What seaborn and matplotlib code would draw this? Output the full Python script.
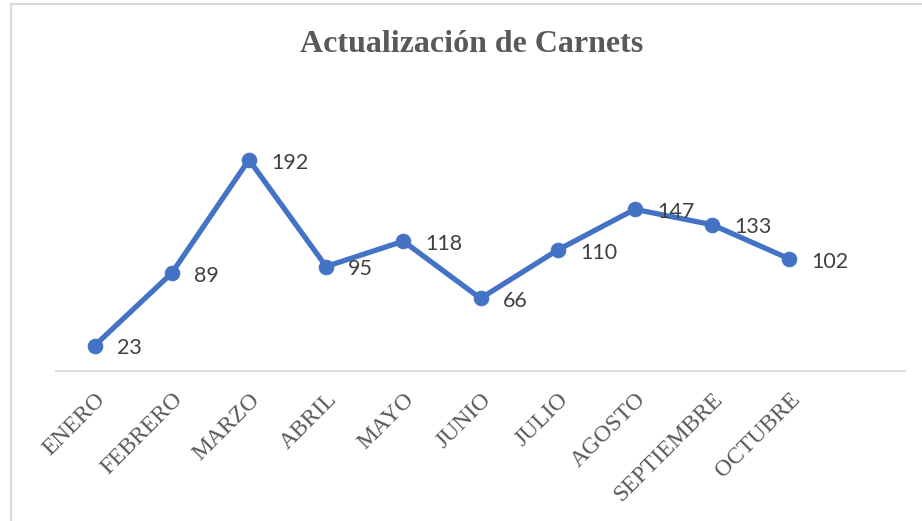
import matplotlib
matplotlib.use("Agg")
import matplotlib.pyplot as plt
import seaborn as sns
import pandas as pd
from matplotlib.lines import Line2D

months = ["ENERO", "FEBRERO", "MARZO", "ABRIL", "MAYO", "JUNIO",
          "JULIO", "AGOSTO", "SEPTIEMBRE", "OCTUBRE"]
values = [23, 89, 192, 95, 118, 66, 110, 147, 133, 102]
title = "Actualización de Carnets"

sns.set_theme(style="white")
plt.rcParams['font.family'] = ['Liberation Serif', 'DejaVu Serif']

df = pd.DataFrame({"x": list(range(len(months))), "mes": months, "valor": values})

fig = plt.figure(figsize=(9.22, 5.21), dpi=100)
ax = fig.add_axes([56 / 922, (521 - 371) / 521, (905 - 56) / 922, (371 - 96) / 521])

blue = "#4472C4"
sns.lineplot(data=df, x="x", y="valor", ax=ax, color=blue, linewidth=3.8,
             marker="o", markersize=10.5, markeredgecolor=blue, markerfacecolor=blue,
             clip_on=False)

ax.set_xlim(-0.5, 10.5)
ax.set_ylim(0, 250)
ax.set_xticks(df["x"])
ax.set_xticklabels(months, rotation=45, ha="right", va="top", rotation_mode="anchor",
                   fontsize=17, color="#595959", family="Liberation Serif")
ax.tick_params(axis="x", length=0, pad=13)
ax.set_yticks([])
ax.set_xlabel("")
ax.set_ylabel("")
for s in ["top", "right", "left"]:
    ax.spines[s].set_visible(False)
ax.spines["bottom"].set_color("#D9D9D9")
ax.spines["bottom"].set_linewidth(1.3)

for xi, v in zip(df["x"], values):
    ax.annotate(str(v), (xi, v), xytext=(16, -2), textcoords="offset points",
                ha="left", va="center", fontsize=15.5, color="#404040",
                family=["Lato", "DejaVu Sans"])

fig.text(472 / 922, 1 - 45 / 521, title, ha="center", va="center",
         fontsize=23, fontweight="bold", color="#595959", family="Liberation Serif")

# chart border (top and left visible)
fig.add_artist(Line2D([11 / 922, 1.0], [1 - 4 / 521, 1 - 4 / 521], transform=fig.transFigure,
                      color="#D9D9D9", linewidth=1.5))
fig.add_artist(Line2D([11 / 922, 11 / 922], [0, 1 - 4 / 521], transform=fig.transFigure,
                      color="#D9D9D9", linewidth=1.5))

fig.savefig("out.png", dpi=100, facecolor="white")
